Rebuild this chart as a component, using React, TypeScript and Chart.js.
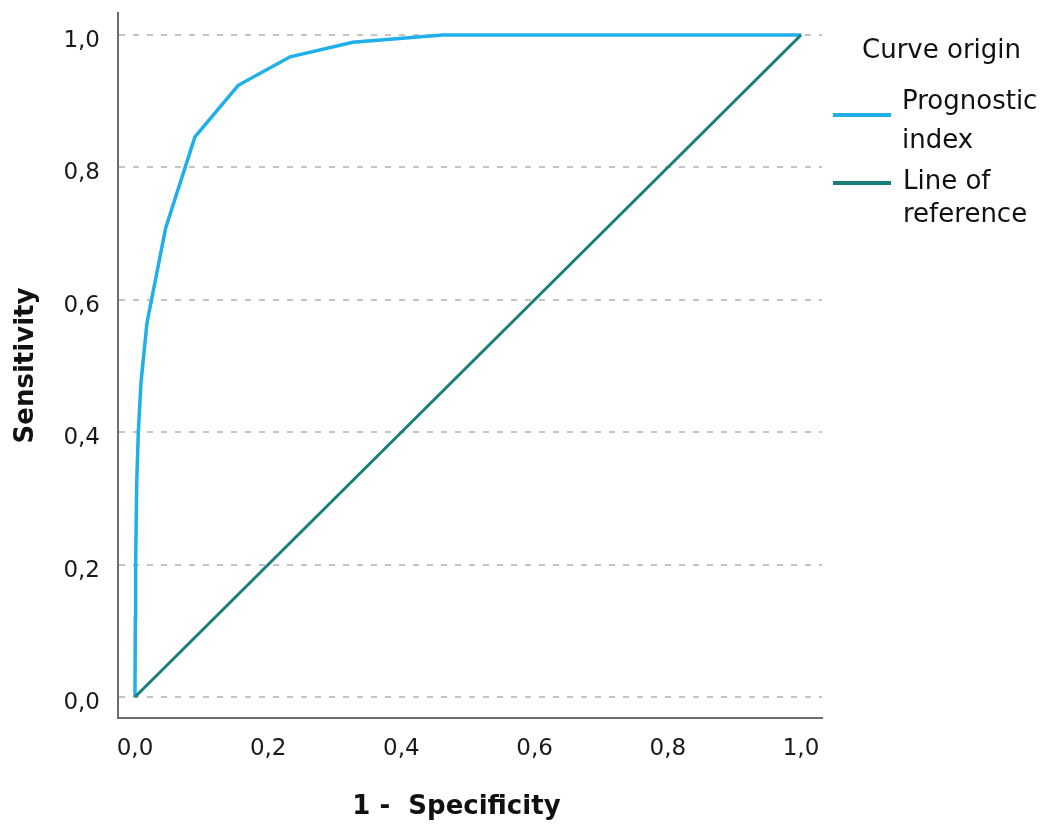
import React, { useEffect, useRef } from "react";
import { Chart, registerables } from "chart.js";

Chart.register(...registerables);

// ROC curve of the prognostic index (1 - specificity, sensitivity)
const rocFpr = [0, 0.0005, 0.001, 0.0025, 0.005, 0.009, 0.018, 0.046, 0.09, 0.155, 0.233, 0.327, 0.462, 1.0];
const rocTpr = [0, 0.12, 0.2, 0.32, 0.4, 0.475, 0.565, 0.708, 0.846, 0.924, 0.967, 0.989, 1.0, 1.0];

// Diagonal line of reference
const refFpr = [0, 1];
const refTpr = [0, 1];

const tickValues = [0, 0.2, 0.4, 0.6, 0.8, 1.0];
const seriesNames = ["Prognostic index", "Line of reference"];
const legendLines = [["Prognostic", "index"], ["Line of", "reference"]];
const seriesColors = ["#1fb0ea", "#187f78"];
const legendTitle = "Curve origin";
const xTitle = "1 -  Specificity   ";
const yTitle = "Sensitivity";

const fmt = (v: number) => Number(v).toFixed(1).replace(".", ",");

export default function App() {
  const canvasRef = useRef<HTMLCanvasElement | null>(null);

  useEffect(() => {
    const canvas = canvasRef.current;
    if (!canvas) return;
    const fixedTicks = (scale: any) => {
      scale.ticks = tickValues.map((v) => ({ value: v }));
    };
    const chart = new Chart(canvas, {
      type: "scatter",
      data: {
        datasets: [
          {
            label: seriesNames[0],
            data: rocFpr.map((x, i) => ({ x, y: rocTpr[i] })),
            showLine: true,
            borderColor: seriesColors[0],
            backgroundColor: seriesColors[0],
            borderWidth: 3.5,
            pointRadius: 0,
            tension: 0,
            order: 2,
          },
          {
            label: seriesNames[1],
            data: refFpr.map((x, i) => ({ x, y: refTpr[i] })),
            showLine: true,
            borderColor: seriesColors[1],
            backgroundColor: seriesColors[1],
            borderWidth: 3,
            pointRadius: 0,
            tension: 0,
            order: 1,
          },
        ],
      },
      options: {
        animation: false,
        responsive: false,
        maintainAspectRatio: false,
        layout: { padding: { top: 13, right: 226, bottom: 0, left: 0 } },
        plugins: {
          legend: { display: false },
          tooltip: { enabled: false },
        },
        scales: {
          x: {
            type: "linear",
            min: -0.0255,
            max: 1.0315,
            afterBuildTicks: fixedTicks,
            afterFit: (scale: any) => {
              scale.height = 107;
              scale.paddingLeft = 0;
              scale.paddingRight = 0;
            },
            grid: { display: false, drawTicks: false },
            border: { display: true, color: "#6e6e6e", width: 2 },
            ticks: {
              padding: 17,
              color: "#1a1a1a",
              font: { family: "DejaVu Sans", size: 23 },
              callback: (v: any) => fmt(v),
              maxRotation: 0,
            },
            title: {
              display: true,
              text: xTitle,
              color: "#111",
              font: { family: "DejaVu Sans", size: 26, weight: "bold" },
              padding: { top: 0, bottom: 2 },
            },
          },
          y: {
            type: "linear",
            min: -0.0317,
            max: 1.0332,
            afterBuildTicks: fixedTicks,
            afterFit: (scale: any) => {
              scale.width = 118;
              scale.paddingTop = 0;
              scale.paddingBottom = 0;
            },
            grid: {
              display: true,
              drawTicks: false,
              color: "#c4c4c4",
              lineWidth: 2,
            },
            border: { display: true, color: "#6e6e6e", width: 2, dash: [6, 8] },
            ticks: {
              padding: 18,
              labelOffset: 6,
              color: "#1a1a1a",
              font: { family: "DejaVu Sans", size: 23 },
              callback: (v: any) => fmt(v),
            },
            title: {
              display: true,
              text: yTitle,
              color: "#111",
              font: { family: "DejaVu Sans", size: 26, weight: "bold" },
              padding: { top: 11, bottom: 0 },
            },
          },
        },
      },
    });
    return () => chart.destroy();
  }, []);

  const textStyle = (left: number, top: number): React.CSSProperties => ({
    position: "absolute",
    left,
    top,
    fontFamily: "DejaVu Sans",
    fontSize: 26,
    lineHeight: "26px",
    color: "#111",
    whiteSpace: "nowrap",
  });
  const lineStyle = (top: number, color: string): React.CSSProperties => ({
    position: "absolute",
    left: 833,
    top,
    width: 58,
    height: 4,
    background: color,
  });

  return (
    <div style={{ position: "absolute", left: 0, top: 0, width: 1048, height: 825, background: "#fff" }}>
      <canvas ref={canvasRef} width={1048} height={825} style={{ display: "block" }} />
      <div style={textStyle(862, 36)}>{legendTitle}</div>
      <div style={lineStyle(113, seriesColors[0])} />
      <div style={textStyle(902, 87)}>{legendLines[0][0]}</div>
      <div style={textStyle(902, 126)}>{legendLines[0][1]}</div>
      <div style={lineStyle(181, seriesColors[1])} />
      <div style={textStyle(903, 167)}>{legendLines[1][0]}</div>
      <div style={textStyle(903, 200)}>{legendLines[1][1]}</div>
    </div>
  );
}
